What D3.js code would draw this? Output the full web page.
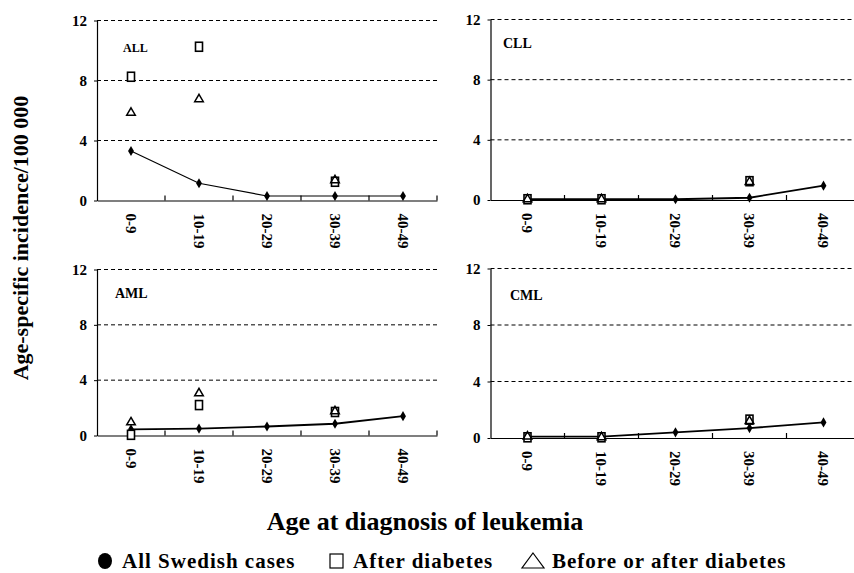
<!DOCTYPE html>
<html>
<head>
<meta charset="utf-8">
<script src="https://cdn.jsdelivr.net/npm/d3@7"></script>
<style>
  body { margin: 0; background: #fff; }
  svg { display: block; font-family: "Liberation Serif", "Times New Roman", serif; }
</style>
</head>
<body>
<svg id="chart" width="854" height="573"></svg>
<script>
// categories and ticks
const ages = ["0-9", "10-19", "20-29", "30-39", "40-49"];
const yTicks = [0, 4, 8, 12];
const legendLabels = ["All Swedish cases", "After diabetes", "Before or after diabetes"];

// age-specific incidence per 100 000 (null = no marker)
const swedishALL = [3.3, 1.15, 0.3, 0.3, 0.3];
const afterALL = [8.25, 10.25, null, 1.25, null];
const beforeAfterALL = [5.85, 6.75, null, 1.35, null];

const swedishCLL = [0.05, 0.05, 0.05, 0.15, 0.95];
const afterCLL = [0.05, 0.05, null, 1.25, null];
const beforeAfterCLL = [0.05, 0.05, null, 1.2, null];

const swedishAML = [0.45, 0.5, 0.65, 0.85, 1.4];
const afterAML = [0.05, 2.2, null, 1.7, null];
const beforeAfterAML = [0.95, 3.05, null, 1.75, null];

const swedishCML = [0.1, 0.1, 0.4, 0.7, 1.1];
const afterCML = [0.05, 0.05, null, 1.3, null];
const beforeAfterCML = [0.1, 0.05, null, 1.2, null];

const svg = d3.select("#chart");

// panel layout
const panels = [
  { name: "ALL", swedish: swedishALL, after: afterALL, beforeAfter: beforeAfterALL,
    x0: 97, x1: 437, yTop: 20.5, yBot: 200.5, lx: 123, ly: 52, lsize: 12 },
  { name: "CLL", swedish: swedishCLL, after: afterCLL, beforeAfter: beforeAfterCLL,
    x0: 490.5, x1: 860.5, yTop: 19.5, yBot: 200, lx: 503, ly: 48, lsize: 14 },
  { name: "AML", swedish: swedishAML, after: afterAML, beforeAfter: beforeAfterAML,
    x0: 97, x1: 437, yTop: 269.5, yBot: 435.5, lx: 115, ly: 298, lsize: 14 },
  { name: "CML", swedish: swedishCML, after: afterCML, beforeAfter: beforeAfterCML,
    x0: 490.5, x1: 860.5, yTop: 268.5, yBot: 438, lx: 510, ly: 300, lsize: 14 }
];

panels.forEach(p => {
  const x = d3.scaleBand().domain(ages).range([p.x0, p.x1]);
  const y = d3.scaleLinear().domain([0, 12]).range([p.yBot, p.yTop]);
  const g = svg.append("g");

  // dashed gridlines
  g.selectAll(".grid")
    .data(yTicks.filter(t => t > 0))
    .enter().append("line")
    .attr("x1", p.x0).attr("x2", p.x1)
    .attr("y1", d => y(d)).attr("y2", d => y(d))
    .attr("stroke", "#000").attr("stroke-width", 1)
    .attr("stroke-dasharray", "4,3");

  // y axis
  const yAxis = g.append("g")
    .attr("transform", `translate(${p.x0},0)`)
    .call(d3.axisLeft(y).tickValues(yTicks).tickSize(3).tickSizeOuter(0).tickPadding(7).tickFormat(d3.format("d")));
  yAxis.select(".domain").attr("stroke", "#000").attr("stroke-width", 1.2);
  yAxis.selectAll("text")
    .attr("font-family", "Liberation Serif, serif")
    .attr("font-weight", "bold").attr("font-size", 15).attr("fill", "#000");

  // x axis with rotated labels
  const xAxis = g.append("g")
    .attr("transform", `translate(0,${p.yBot})`)
    .call(d3.axisBottom(x).tickSize(0).tickSizeOuter(0));
  xAxis.select(".domain").attr("stroke", "#000").attr("stroke-width", 1.2);
  xAxis.selectAll("text")
    .attr("transform", "rotate(90)")
    .attr("x", 13).attr("y", 0).attr("dy", "0.35em")
    .attr("text-anchor", "start")
    .attr("font-family", "Liberation Serif, serif")
    .attr("font-weight", "bold").attr("font-size", 15).attr("fill", "#000");

  // boundary ticks pointing up
  g.selectAll(".btick")
    .data(ages)
    .enter().append("line")
    .attr("x1", d => x(d) + x.bandwidth()).attr("x2", d => x(d) + x.bandwidth())
    .attr("y1", p.yBot).attr("y2", p.yBot - 5)
    .attr("stroke", "#000").attr("stroke-width", 1.2);

  // all Swedish cases line
  const line = d3.line()
    .x((d, i) => x(ages[i]) + x.bandwidth() / 2)
    .y(d => y(d));
  g.append("path")
    .datum(p.swedish)
    .attr("fill", "none").attr("stroke", "#000")
    .attr("stroke-width", p.name === "ALL" ? 1.2 : 1.8)
    .attr("d", line);
  g.selectAll(".dot")
    .data(p.swedish)
    .enter().append("path")
    .attr("d", d3.symbol(d3.symbolDiamond, 30))
    .attr("transform", (d, i) => `translate(${x(ages[i]) + x.bandwidth() / 2},${y(d)})`)
    .attr("fill", "#000");

  // after diabetes: open squares
  const afterPts = p.after.map((v, i) => ({ age: ages[i], v })).filter(d => d.v !== null);
  g.selectAll(".sq")
    .data(afterPts)
    .enter().append("rect")
    .attr("x", d => x(d.age) + x.bandwidth() / 2 - 3.5)
    .attr("y", d => y(d.v) - 4.5)
    .attr("width", 7).attr("height", 9)
    .attr("fill", "#fff").attr("stroke", "#000").attr("stroke-width", 1.6);

  // before or after diabetes: open triangles
  const baPts = p.beforeAfter.map((v, i) => ({ age: ages[i], v })).filter(d => d.v !== null);
  g.selectAll(".tri")
    .data(baPts)
    .enter().append("path")
    .attr("d", d3.symbol(d3.symbolTriangle, 32))
    .attr("transform", d => `translate(${x(d.age) + x.bandwidth() / 2},${y(d.v)})`)
    .attr("fill", "none").attr("stroke", "#000").attr("stroke-width", 1.5);

  // panel label
  g.append("text")
    .attr("x", p.lx).attr("y", p.ly)
    .attr("font-weight", "bold").attr("font-size", p.lsize)
    .text(p.name);
});

// axis titles
svg.append("text")
  .attr("transform", "translate(28,238) rotate(-90)")
  .attr("text-anchor", "middle")
  .attr("font-weight", "bold").attr("font-size", 22)
  .text("Age-specific incidence/100 000");

svg.append("text")
  .attr("x", 425).attr("y", 530)
  .attr("text-anchor", "middle")
  .attr("font-weight", "bold").attr("font-size", 26)
  .text("Age at diagnosis of leukemia");

// legend
const legend = svg.append("g");
legend.append("ellipse")
  .attr("cx", 105).attr("cy", 561).attr("rx", 7).attr("ry", 8)
  .attr("fill", "#000");
legend.append("rect")
  .attr("x", 330).attr("y", 554).attr("width", 13).attr("height", 14)
  .attr("fill", "none").attr("stroke", "#000").attr("stroke-width", 1.2);
legend.append("path")
  .attr("d", "M533,553 L544,568 L522,568 Z")
  .attr("fill", "none").attr("stroke", "#000").attr("stroke-width", 1.2);
const legendX = [122, 353, 552];
legend.selectAll(".lt")
  .data(legendLabels)
  .enter().append("text")
  .attr("x", (d, i) => legendX[i]).attr("y", 568)
  .attr("font-weight", "bold").attr("font-size", 21)
  .attr("letter-spacing", 1)
  .text(d => d);
</script>
</body>
</html>
